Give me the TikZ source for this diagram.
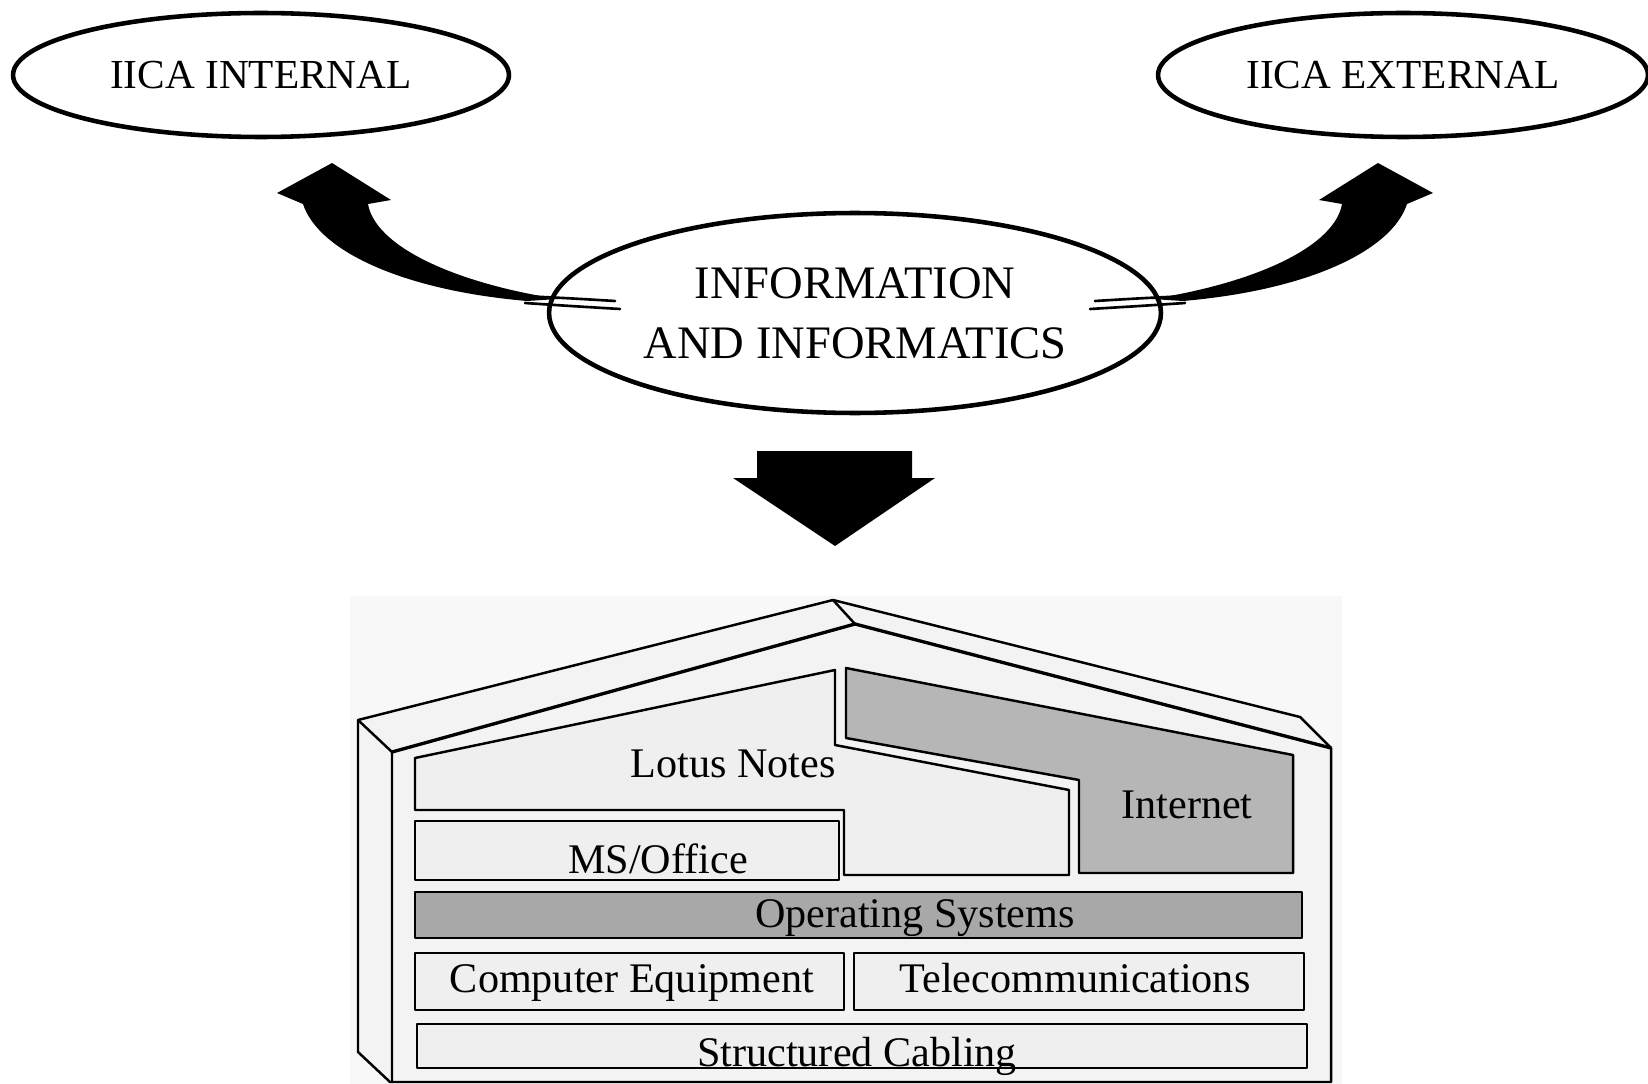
\documentclass[tikz,border=0pt]{standalone}
\usepackage{fontspec}
\setmainfont{Liberation Serif}
\usepackage{tikz}
\usetikzlibrary{shapes,positioning}
\usepackage{xcolor}
\definecolor{iibg}{RGB}{248,248,248}
\definecolor{iiwall}{RGB}{243,243,243}
\definecolor{iibox}{RGB}{239,239,239}
\definecolor{iinet}{RGB}{182,182,182}
\definecolor{iios}{RGB}{168,168,168}
\tikzstyle{oval} = [ellipse, draw, line width=2.6pt, inner sep=0pt, font=\fontsize{23.5}{28}\selectfont]
\tikzstyle{wall} = [draw, line width=1.4pt, line join=round, fill=iiwall]
\tikzstyle{layer} = [draw, line width=1.4pt, line join=round, fill=iibox]
\tikzstyle{housetext} = [inner sep=0pt, anchor=base, font=\fontsize{24}{28}\selectfont]
\tikzstyle{tailline} = [line width=1.5pt, line cap=round]
\newcommand{\bentarrow}{%
  \fill (332,163) -- (391,200) -- (368,204) .. controls (375,245) and (450,282) .. (558,299)
    -- (527,301) .. controls (400,290) and (318,250) .. (303,204) -- (277,193) -- cycle;
  \draw[tailline] (520,296) .. controls (565,298) .. (615,301);
  \draw[tailline] (525,303) .. controls (570,306) .. (620,309);
}
\begin{document}
\begin{tikzpicture}[x=0.02cm, y=-0.02cm]
\useasboundingbox (0,0) rectangle (1648,1084);
% Target groups
\node (internal) [oval, minimum width=9.92cm, minimum height=2.48cm] at (261,75) {IICA INTERNAL};
\node (external) [oval, minimum width=9.8cm, minimum height=2.48cm] at (1403,75) {IICA EXTERNAL};
\node (info) [oval, minimum width=12.24cm, minimum height=4cm, align=center,
  font=\fontsize{26.5}{34}\selectfont] at (855,313) {INFORMATION\\AND INFORMATICS};

% Bent arrows
\bentarrow
\begin{scope}[shift={(1710,0)}, xscale=-1]
\bentarrow
\end{scope}

% Down arrow
\fill (757,451) -- (912,451) -- (912,478) -- (935,478) -- (835,546) -- (733,478) -- (757,478) -- cycle;

% House
\fill[iibg] (350,596) rectangle (1342,1084);
\filldraw[wall] (358,720) -- (833,600) -- (1300,717) -- (1331,748) -- (1331,1082)
  -- (390,1082) -- (358,1052) -- cycle;
\draw[line width=1.4pt] (358,720) -- (392,752) -- (392,1082);
\draw[line width=1.9pt] (392,752) -- (855,624) -- (1331,748);
\draw[line width=1.4pt] (833,600) -- (855,624);

% Layers
\filldraw[layer] (415,758) -- (835,670) -- (835,745) -- (1069,790) -- (1069,875)
  -- (844,875) -- (844,810) -- (415,810) -- cycle;
\filldraw[layer, fill=iinet] (846,668) -- (1293,755) -- (1293,873) -- (1079,873)
  -- (1079,780) -- (846,738) -- cycle;
\filldraw[layer] (415,821) rectangle (839,880);
\filldraw[layer, fill=iios] (415,892) rectangle (1302,938);
\filldraw[layer] (415,953) rectangle (844,1010);
\filldraw[layer] (854,953) rectangle (1304,1010);
\filldraw[layer] (417,1024) rectangle (1307,1068);

% Layer labels
\node (lotus) [housetext, anchor=base east] at (836,777) {Lotus Notes};
\node (internet) [housetext] at (1187,818) {Internet};
\node (msoffice) [housetext] at (658,873) {MS/Office};
\node (opsys) [housetext] at (915,927) {Operating Systems};
\node (equipment) [housetext] at (632,992) {Computer Equipment};
\node (telecom) [housetext] at (1075,992) {Telecommunications};
\node (cabling) [housetext] at (857,1066) {Structured Cabling};
\end{tikzpicture}
\end{document}
